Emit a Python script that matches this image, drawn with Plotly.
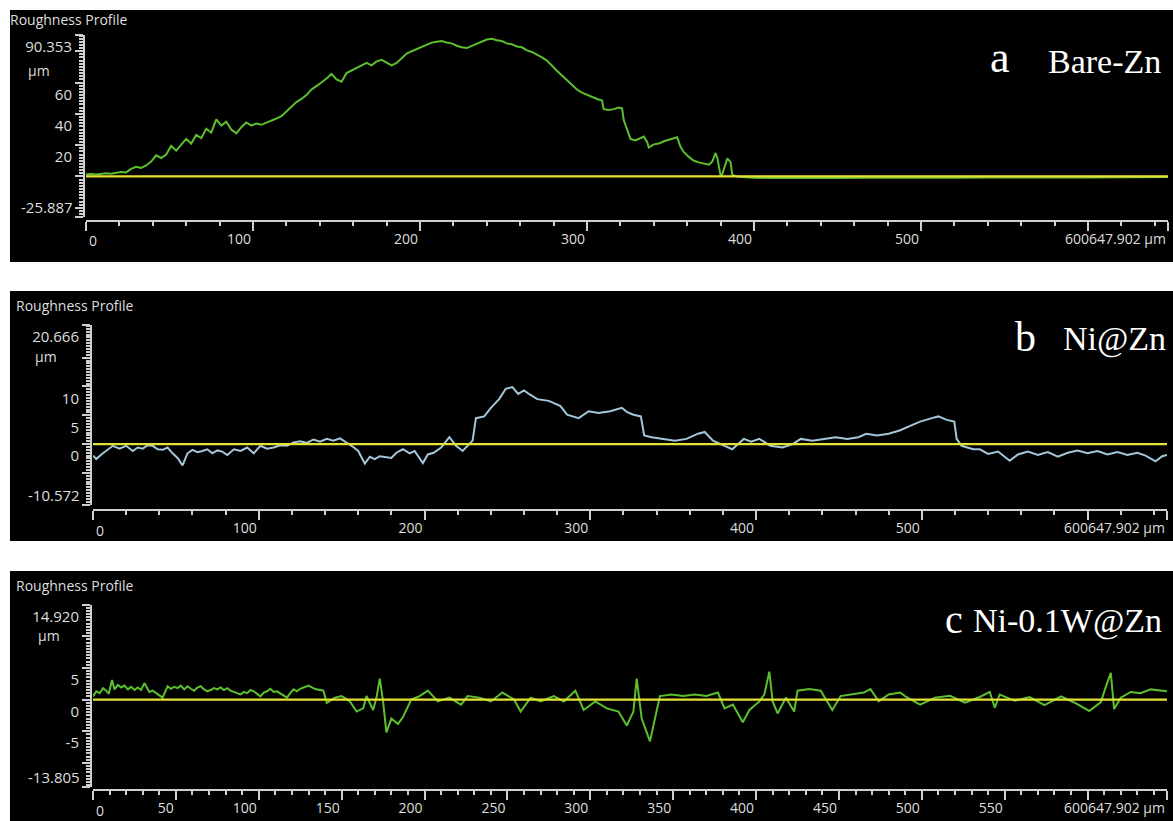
import plotly.graph_objects as go

W, H = 1173, 821
X_END = 647.902

# ---------------- profile data (x in µm, height in µm) ----------------
bare_x = [0, 3, 6, 9, 12, 15, 18, 21, 24, 27, 30, 33, 36, 39, 42, 45, 48, 51, 54, 57, 60,
          63, 66, 69, 72, 75, 78, 81, 84, 87, 90, 93, 96, 99, 102, 105, 108, 111, 114, 117,
          120, 123, 126, 129, 132, 135, 138, 141, 144, 147, 150, 153, 156, 159, 162, 165,
          168, 171, 174, 177, 180, 183, 186, 189, 192, 195, 198, 201, 204, 207, 210, 213,
          216, 219, 222, 225, 228, 231, 234, 237, 240, 243, 246, 249, 252, 255, 258, 261,
          264, 267, 270, 273, 276, 279, 282, 285, 288, 291, 294, 297, 300, 303, 306, 309,
          310, 313, 316, 319, 321, 322, 324, 326, 329, 332, 334, 336, 337, 340, 343, 346,
          349, 352, 354, 356, 358, 361, 364, 367, 370, 373, 375, 377, 378, 379, 380, 381,
          382, 384, 386, 387, 390, 395, 400, 410, 420, 435, 450, 465, 480, 500, 520, 540,
          560, 580, 600, 620, 647.902]
bare_y = [1.2, 1.5, 1.3, 1.8, 2.0, 1.7, 2.3, 2.8, 2.6, 4.8, 6.2, 5.4, 7.0, 9.5, 13.5, 11.8,
          14.0, 19.5, 16.5, 20.5, 24.0, 21.0, 26.5, 24.5, 30.5, 28.0, 36.5, 32.5, 35.0, 30.0,
          27.5, 31.5, 34.5, 32.5, 33.8, 33.0, 34.2, 35.5, 37.0, 38.5, 41.5, 44.5, 47.5, 49.5,
          52.0, 55.5, 57.5, 60.0, 62.5, 65.5, 62.0, 60.5, 66.0, 67.5, 69.0, 71.0, 72.5, 71.0,
          73.5, 74.5, 73.0, 71.0, 72.5, 75.5, 78.5, 80.0, 81.5, 83.0, 84.0, 85.5, 86.0, 86.5,
          85.5, 85.0, 83.5, 82.5, 82.0, 83.5, 85.0, 86.5, 87.5, 88.0, 87.0, 86.5, 85.0, 84.5,
          83.0, 82.5, 80.5, 79.5, 78.0, 76.0, 74.0, 70.5, 67.5, 64.5, 61.5, 58.0, 55.5, 53.5,
          52.0, 50.5, 49.5, 48.5, 43.0, 42.5, 43.0, 44.0, 43.5, 36.0, 30.0, 24.0, 23.0, 24.5,
          25.5, 22.0, 18.5, 20.5, 21.0, 22.5, 23.5, 24.5, 25.0, 19.0, 15.5, 12.5, 10.0, 9.0,
          8.0, 7.5, 9.5, 15.0, 12.0, 6.0, 0.5, 1.5, 5.0, 11.5, 9.0, 1.0, 0.0, -0.4, -0.8,
          -1.0, -1.1, -0.9, -1.0, -0.8, -0.9, -0.7, -0.8, -0.6, -0.7, -0.5, -0.6, -0.5, -0.4]

ni_x = [0, 2, 5, 8, 12, 16, 20, 24, 27, 30, 33, 36, 39, 42, 45, 48, 51, 54, 57, 60, 63,
        66, 69, 72, 75, 78, 81, 85, 89, 93, 97, 101, 105, 109, 113, 117, 121, 125, 129,
        133, 137, 141, 145, 149, 153, 157, 160, 164, 167, 170, 173, 180, 183, 187, 191,
        194, 199, 202, 205.5, 210, 215, 219, 223, 229, 231, 236, 240, 245, 249, 253,
        256.5, 260, 263, 268, 275, 282, 286, 293, 299, 305, 312, 319, 322, 326, 330.5,
        332.5, 337, 344, 351, 358, 365, 369, 374, 381, 385.6, 392.6, 397, 402, 408.6,
        416, 422, 427, 434, 441, 448, 455, 461.7, 466.5, 473, 480, 487, 494, 499, 506,
        510, 515, 519.6, 521, 524, 531, 535, 540, 546, 553, 558, 564, 570, 576, 582, 588,
        594, 600, 606, 612, 618, 624, 630, 635, 641, 645, 647.902]
ni_y = [-2.0, -2.6, -1.8, -1.2, -0.3, -0.8, -0.3, -1.2, -0.6, -0.8, -0.2, -0.3, -0.9,
        -1.0, -0.6, -1.6, -2.4, -3.7, -1.6, -1.0, -1.4, -1.2, -0.9, -1.6, -1.1, -1.3,
        -1.9, -0.9, -1.2, -0.6, -1.6, -0.3, -0.8, -0.6, -0.2, -0.3, 0.3, 0.5, 0.2, 0.8,
        0.4, 0.9, 0.6, 1.0, 0.3, -0.5, -1.2, -3.4, -2.2, -2.6, -2.1, -2.4, -1.5, -0.9,
        -1.6, -1.2, -3.3, -1.8, -1.5, -0.6, 1.2, -0.3, -1.2, 0.6, 4.5, 4.8, 6.3, 7.8, 9.6,
        9.9, 8.7, 9.3, 8.7, 7.8, 7.5, 6.6, 5.1, 4.5, 5.7, 5.4, 5.7, 6.3, 5.6, 5.1, 4.8,
        1.5, 1.2, 0.9, 0.6, 0.9, 1.8, 2.1, 0.6, -0.3, -0.9, 0.9, 0.4, 0.9, -0.3, -0.6,
        0.0, 0.9, 0.6, 0.9, 1.2, 0.9, 1.2, 1.8, 1.5, 1.8, 2.4, 3.3, 3.9, 4.5, 4.8, 4.2,
        3.9, 0.9, -0.3, -0.9, -0.9, -1.7, -1.3, -2.9, -1.8, -1.3, -1.9, -1.4, -2.2, -1.5,
        -1.1, -1.6, -1.2, -1.8, -1.4, -1.9, -1.5, -2.0, -3.0, -2.1, -1.9]

niw_x = [0, 2, 4, 6, 8, 9.5, 11.5, 13, 15, 17, 19, 21, 23, 25, 27, 29, 31, 32.5, 34, 36,
         38, 40, 42, 43.5, 45, 47, 49, 51, 53, 55, 57, 59, 61, 63, 65, 67, 69, 71, 73, 75,
         77, 79, 81, 83, 85, 87, 89, 91, 93, 95, 97, 99, 101, 103, 105, 107, 109, 111, 113,
         115, 117, 119, 121, 123, 125, 130, 134, 139, 141, 146,
         150, 155, 159, 163, 165, 169, 171, 173, 175, 177, 180, 184, 187, 192, 197, 202,
         208, 215, 222, 226, 233, 240, 247, 254, 258, 264, 270, 278, 284, 291, 296, 303,
         310, 317, 322, 326, 328, 331, 334, 336, 339, 342, 349, 356, 363, 370, 377, 381,
         386, 392, 396, 402, 405, 408, 410, 413, 418, 423, 425, 432, 439, 446, 451, 458,
         465, 469, 474, 480, 487, 490, 499, 508, 517, 526, 535, 541, 544, 547, 556, 565,
         574, 584, 593, 601, 608, 611, 614, 616, 620, 626, 632, 638, 644, 647.902]
niw_y = [0.5, 1.3, 1.0, 1.8, 1.4, 0.9, 3.1, 1.6, 2.3, 1.9, 2.2, 1.6, 2.0, 1.5, 1.9, 1.5,
         2.6, 1.9, 1.2, 1.4, 1.0, 0.7, 0.3, 1.2, 2.1, 1.7, 2.0, 1.8, 2.2, 1.6, 2.1, 1.7,
         1.4, 1.9, 2.1, 1.6, 1.3, 1.5, 1.8, 1.6, 1.9, 1.5, 1.8, 1.4, 1.2, 1.0, 0.8, 1.2,
         1.0, 1.5, 1.3, 0.9, 0.5, 1.1, 1.3, 1.7, 1.2, 1.3, 1.0, 0.7, 0.3, 1.0, 1.6, 1.3,
         1.7, 2.2, 1.65, 1.4, -0.55, 0.3,
         0.55, -0.3, -1.9, -1.4, 0.55, -1.65, 0.3, 3.3, -0.3,
         -5.2, -3.0, -3.85, -2.75, 0.0, 0.55, 1.4, -0.3, 0.3, -0.8, 0.55, 0.3, -0.3, 1.1,
         0.0, -1.9, 0.3, -0.3, 0.55, -0.3, 1.4, -1.65, -0.3, -1.4, -1.9, -4.1, -1.9, 3.3,
         -3.0, -5.2, -6.6, -3.0, 0.55, 0.8, 0.55, 0.8, 0.55, 1.1, -1.4, -0.8, -3.6, -1.65,
         -0.3, 0.8, 4.4, -0.3, -2.2, 0.3, -1.9, 1.4, 1.65, 1.4, -1.65, 0.55, 0.8, 1.1,
         1.65, -0.3, 0.8, 1.1, 0.5, -0.8, 0.3, 0.6, -0.5, 0.4, 1.2, -1.3, 0.8, -0.2, 0.4,
         -0.9, 0.5, -0.6, -1.8, -0.4, 2.0, 4.2, -1.5, 0.3, 1.2, 1.0, 1.6, 1.4, 1.3]

# ---------------- axis scales and tick labels ----------------
y_ranges = [[-25.887, 90.353], [-10.572, 20.666], [-13.805, 14.920]]
y_top_labels = ["90.353", "20.666", "14.920"]
y_bottom_labels = ["-25.887", "-10.572", "-13.805"]
y_major_vals = [[80, 60, 40, 20, 0, -20], [15, 10, 5, 0, -5], [10, 5, 0, -5, -10]]
y_major_text = [["", "60", "40", "20", "", ""], ["", "10", "5", "0", ""], ["", "5", "0", "-5", ""]]
y_minor_step = [2, 0.5, 0.5]
x_major_step = [100, 100, 50]
x_minor_step = [20, 20, 10]
x_end_label = "600647.902 µm"   # last labelled tick text runs into the end value

panel_letters = ["a", "b", "c"]
panel_names = ["Bare-Zn", "Ni@Zn", "Ni-0.1W@Zn"]

profiles = [(bare_x, bare_y, "#5cbf2e"), (ni_x, ni_y, "#a3c6d8"), (niw_x, niw_y, "#5cbf2e")]

# ---------------- layout geometry (pixels) ----------------
panel_box = [(10, 10, 1173, 262), (10, 291, 1173, 541), (10, 571, 1173, 821)]
plot_x = [(86, 1168), (93, 1167), (93, 1167)]
plot_y = [(35, 217), (325, 505), (605, 787)]
yaxis_px = [84, 91, 91]
xaxis_py = [221, 510, 790]
title_py = [19, 306, 585]
unit_py = [70, 357, 635]
unit_px = [26, 33, 36]
letter_px = [988, 1013, 943]
name_px = [1046, 1061, 971]
label_base_py = [72, 350, 632]
letter_size = [44, 42, 40]
name_size = [34, 34, 34]

AXC = "#cfcfcf"
TXT = "#dedede"
YELLOW = "#e4e232"


def fx(px):
    return px / W


def fy(py):
    return 1 - py / H


fig = go.Figure()
shapes = []
annotations = []
layout_axes = {}

for i in range(3):
    n = "" if i == 0 else str(i + 1)
    xa, ya = "x" + n, "y" + n
    px_, py_, col = profiles[i]

    fig.add_trace(go.Scatter(x=px_, y=py_, mode="lines", line=dict(color=col, width=2),
                             xaxis=xa, yaxis=ya, hoverinfo="skip", showlegend=False))
    fig.add_trace(go.Scatter(x=[0, X_END], y=[0, 0], mode="lines",
                             line=dict(color=YELLOW, width=2.2),
                             xaxis=xa, yaxis=ya, hoverinfo="skip", showlegend=False))

    x0, y0, x1, y1 = panel_box[i]
    shapes.append(dict(type="rect", xref="paper", yref="paper", layer="below",
                       x0=fx(x0), x1=fx(x1), y0=fy(y1), y1=fy(y0),
                       fillcolor="black", line=dict(width=0)))

    step = x_major_step[i]
    xt = list(range(0, 601, step)) + [X_END]
    xtxt = [""] + [str(v) for v in range(step, 600, step)] + ["", x_end_label]

    layout_axes["xaxis" + n] = dict(
        domain=[fx(plot_x[i][0]), fx(plot_x[i][1])], range=[0, X_END],
        anchor="free", position=fy(xaxis_py[i]), automargin=False,
        showline=True, linecolor=AXC, linewidth=2,
        ticks="outside", ticklen=9, tickwidth=2, tickcolor=AXC,
        tickmode="array", tickvals=xt, ticktext=xtxt,
        ticklabelposition="outside left", ticklabelstandoff=5,
        tickfont=dict(family="Open Sans", size=14, color=TXT),
        minor=dict(tickmode="linear", tick0=0, dtick=x_minor_step[i], ticks="outside",
                   ticklen=4, tickwidth=1.5, tickcolor=AXC, showgrid=False),
        showgrid=False, zeroline=False, fixedrange=True)

    lo, hi = y_ranges[i]
    yt = [hi] + y_major_vals[i] + [lo]
    ytxt = [y_top_labels[i]] + y_major_text[i] + [""]
    layout_axes["yaxis" + n] = dict(
        domain=[fy(plot_y[i][1]), fy(plot_y[i][0])], range=[lo, hi],
        anchor="free", position=fx(yaxis_px[i]), automargin=False,
        showline=True, linecolor=AXC, linewidth=2,
        ticks="outside", ticklen=8, tickwidth=2, tickcolor=AXC,
        tickmode="array", tickvals=yt, ticktext=ytxt,
        ticklabelshift=12, ticklabelstandoff=0,
        tickfont=dict(family="Open Sans", size=15, color=TXT),
        minor=dict(tickmode="linear", tick0=0, dtick=y_minor_step[i], ticks="outside",
                   ticklen=4, tickwidth=1.5, tickcolor=AXC, showgrid=False),
        showgrid=False, zeroline=False, fixedrange=True)

    # bottom y label sits above the axis end; "0" on x starts at its tick
    annotations.append(dict(text=y_bottom_labels[i], xref="paper", yref=ya, x=fx(yaxis_px[i] - 9),
                            y=lo, xanchor="right", yanchor="bottom", showarrow=False, yshift=-2,
                            font=dict(family="Open Sans", size=15, color=TXT)))
    annotations.append(dict(text="0", xref=xa, yref="paper", x=0, y=fy(xaxis_py[i] + 20),
                            xanchor="left", yanchor="middle", showarrow=False, xshift=1,
                            font=dict(family="Open Sans", size=14, color=TXT)))
    annotations.append(dict(text="µm", xref="paper", yref="paper", x=fx(unit_px[i]),
                            y=fy(unit_py[i]), xanchor="left", yanchor="middle", showarrow=False,
                            font=dict(family="Open Sans", size=14, color=TXT)))
    annotations.append(dict(text="Roughness Profile", xref="paper", yref="paper",
                            x=fx(x0 + (-2 if i == 0 else 4)), y=fy(title_py[i]),
                            xanchor="left", yanchor="middle", showarrow=False,
                            font=dict(family="Open Sans", size=14, color=TXT)))
    base = label_base_py[i]
    annotations.append(dict(text=panel_letters[i], xref="paper", yref="paper",
                            x=fx(letter_px[i]), y=fy(base - 0.32 * letter_size[i]),
                            xanchor="left", yanchor="middle", showarrow=False,
                            font=dict(family="Liberation Serif", size=letter_size[i], color="white")))
    annotations.append(dict(text=panel_names[i], xref="paper", yref="paper",
                            x=fx(name_px[i]), y=fy(base - 0.32 * name_size[i]),
                            xanchor="left", yanchor="middle", showarrow=False,
                            font=dict(family="Liberation Serif", size=name_size[i], color="white")))

fig.update_layout(
    width=W, height=H, margin=dict(l=0, r=0, t=0, b=0, autoexpand=False),
    paper_bgcolor="white", plot_bgcolor="black",
    shapes=shapes, annotations=annotations, showlegend=False,
    **layout_axes)

fig.write_html("out.html", config={"displayModeBar": False})
